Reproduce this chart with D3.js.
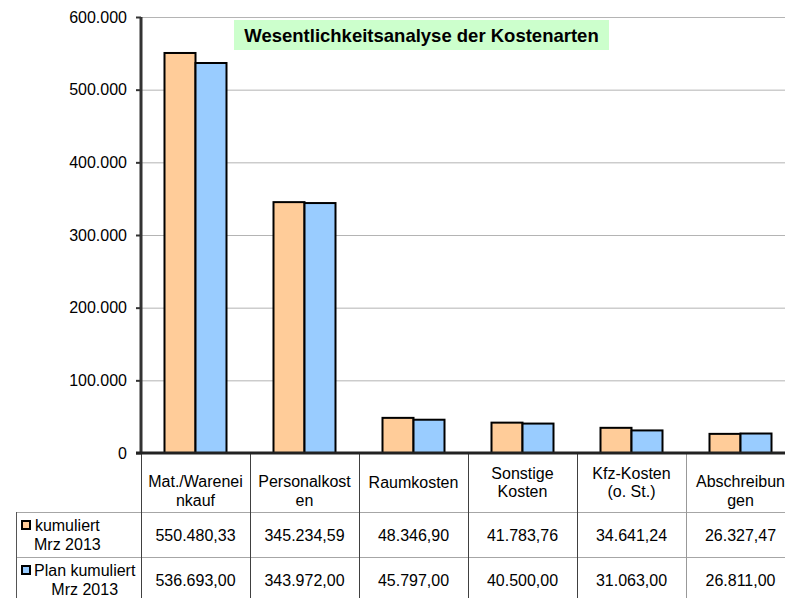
<!DOCTYPE html>
<html>
<head>
<meta charset="utf-8">
<script src="https://cdn.jsdelivr.net/npm/d3@7"></script>
<style>
  html, body { margin: 0; padding: 0; background: #fff; }
  svg { display: block; font-family: Arial, "Liberation Sans", sans-serif; }
</style>
</head>
<body>
<svg id="chart" width="785" height="598"></svg>
<script>
const categories = ['Mat./Wareneinkauf', 'Personalkosten', 'Raumkosten', 'Sonstige Kosten', 'Kfz-Kosten (o. St.)', 'Abschreibungen']
// how Excel wrapped the category labels in the table header
const categoryLines = [
  ['Mat./Warenei', 'nkauf'],
  ['Personalkost', 'en'],
  ['Raumkosten'],
  ['Sonstige', 'Kosten'],
  ['Kfz-Kosten', '(o. St.)'],
  ['Abschreibun', 'gen']
]
const seriesNames = [['kumuliert', 'Mrz 2013'], ['Plan kumuliert', 'Mrz 2013']]
const kumuliert = [550480.33, 345234.59, 48346.90, 41783.76, 34641.24, 26327.47]
const planKumuliert = [536693.00, 343972.00, 45797.00, 40500.00, 31063.00, 26811.00]
const yTicks = [0, 100000, 200000, 300000, 400000, 500000, 600000]
const title = 'Wesentlichkeitsanalyse der Kostenarten'

const colors = ['#ffcc99', '#99ccff']
const seriesValues = [kumuliert, planKumuliert]

const de = d3.formatLocale({ decimal: ',', thousands: '.', grouping: [3], currency: ['', ' €'] })
const fmtTick = de.format(',.0f')
const fmtVal = de.format(',.2f')

const svg = d3.select('#chart')
const W = 785
const plotLeft = 141
const plotTop = 17
const base = 453
const colW = 109

const x = d3.scaleBand().domain(d3.range(categories.length)).range([plotLeft, plotLeft + colW * categories.length])
const xs = d3.scaleBand().domain([0, 1]).range([23.5, 85.5])
const y = d3.scaleLinear().domain([0, 600000]).range([base, plotTop])

// gridlines
svg.append('g')
  .selectAll('line')
  .data(yTicks.filter((d) => d > 0))
  .enter()
  .append('line')
  .attr('x1', plotLeft)
  .attr('x2', W)
  .attr('y1', (d) => y(d) + 0.5)
  .attr('y2', (d) => y(d) + 0.5)
  .attr('stroke', '#b4b4b4')
  .attr('stroke-width', 1)

// title box
const tg = svg.append('g')
tg.append('rect')
  .attr('x', 234).attr('y', 20).attr('width', 375).attr('height', 30)
  .attr('fill', '#ccffcc')
tg.append('text')
  .attr('x', 421.5).attr('y', 41.5)
  .attr('text-anchor', 'middle')
  .attr('font-size', 18.5).attr('font-weight', 'bold')
  .attr('fill', '#000')
  .text(title)

// bars
const groups = svg.append('g')
  .selectAll('g')
  .data(categories.map((c, i) => i))
  .enter()
  .append('g')
  .attr('transform', (i) => 'translate(' + x(i) + ',0)')

groups.selectAll('rect')
  .data((i) => seriesValues.map((s, k) => ({ k: k, v: s[i] })))
  .enter()
  .append('rect')
  .attr('x', (d) => xs(d.k))
  .attr('width', xs.bandwidth())
  .attr('y', (d) => y(d.v))
  .attr('height', (d) => base - y(d.v))
  .attr('fill', (d) => colors[d.k])
  .attr('stroke', '#000')
  .attr('stroke-width', 2)

// y axis
const yAxis = svg.append('g')
  .attr('transform', 'translate(' + plotLeft + ',0)')
  .call(d3.axisLeft(y).tickValues(yTicks).tickFormat(fmtTick).tickSize(5).tickPadding(9))
yAxis.select('.domain').remove()
yAxis.selectAll('.tick line').attr('stroke', '#333').attr('stroke-width', 2)
yAxis.selectAll('.tick text')
  .attr('font-size', 16)
  .attr('fill', '#000')
  .attr('font-family', 'Arial, "Liberation Sans", sans-serif')
svg.append('line')
  .attr('x1', plotLeft).attr('x2', plotLeft).attr('y1', plotTop).attr('y2', base)
  .attr('stroke', '#333').attr('stroke-width', 3)

// data table
const row1 = 512
const row2 = 557
const tableBottom = 598
const table = svg.append('g')

table.selectAll('line.h')
  .data([row1, row2])
  .enter()
  .append('line')
  .attr('x1', 16).attr('x2', W)
  .attr('y1', (d) => d + 0.5).attr('y2', (d) => d + 0.5)
  .attr('stroke', '#a6a6a6')

table.append('line')
  .attr('x1', 16.5).attr('x2', 16.5).attr('y1', row1).attr('y2', tableBottom)
  .attr('stroke', '#555')

table.selectAll('line.v')
  .data(d3.range(categories.length))
  .enter()
  .append('line')
  .attr('x1', (i) => Math.round(x(i)) + 0.5)
  .attr('x2', (i) => Math.round(x(i)) + 0.5)
  .attr('y1', base).attr('y2', tableBottom)
  .attr('stroke', (i) => (i === 5 ? '#999' : '#404040'))
  .attr('stroke-width', 1)

// baseline
svg.append('line')
  .attr('x1', plotLeft - 5).attr('x2', W).attr('y1', base).attr('y2', base)
  .attr('stroke', '#222').attr('stroke-width', 3)

// header labels
categoryLines.forEach((lines, i) => {
  const cx = x(i) + colW / 2
  let ys
  if (lines.length === 1) ys = [488]
  else if (/^[a-z]/.test(lines[1])) ys = [487, 506]
  else ys = [479, 497]
  lines.forEach((t, j) => {
    table.append('text')
      .attr('x', cx).attr('y', ys[j])
      .attr('text-anchor', 'middle')
      .attr('font-size', 16)
      .text(t)
  })
})

// values
seriesValues.forEach((s, k) => {
  const ty = k === 0 ? 541 : 586
  s.forEach((v, i) => {
    table.append('text')
      .attr('x', x(i) + colW / 2).attr('y', ty)
      .attr('text-anchor', 'middle')
      .attr('font-size', 16)
      .text(fmtVal(v))
  })
})

// legend cells
seriesNames.forEach((lines, k) => {
  const rowTop = k === 0 ? row1 : row2
  table.append('rect')
    .attr('x', 22).attr('y', rowTop + 9)
    .attr('width', 8).attr('height', 8)
    .attr('fill', colors[k])
    .attr('stroke', '#000').attr('stroke-width', 2)
  const texts = lines.map((t, j) => table.append('text')
    .attr('y', rowTop + 19 + j * 19)
    .attr('text-anchor', 'middle')
    .attr('font-size', 16)
    .text(t))
  const maxW = d3.max(texts, (t) => t.node().getComputedTextLength())
  texts.forEach((t) => t.attr('x', 34 + maxW / 2))
})
</script>
</body>
</html>
